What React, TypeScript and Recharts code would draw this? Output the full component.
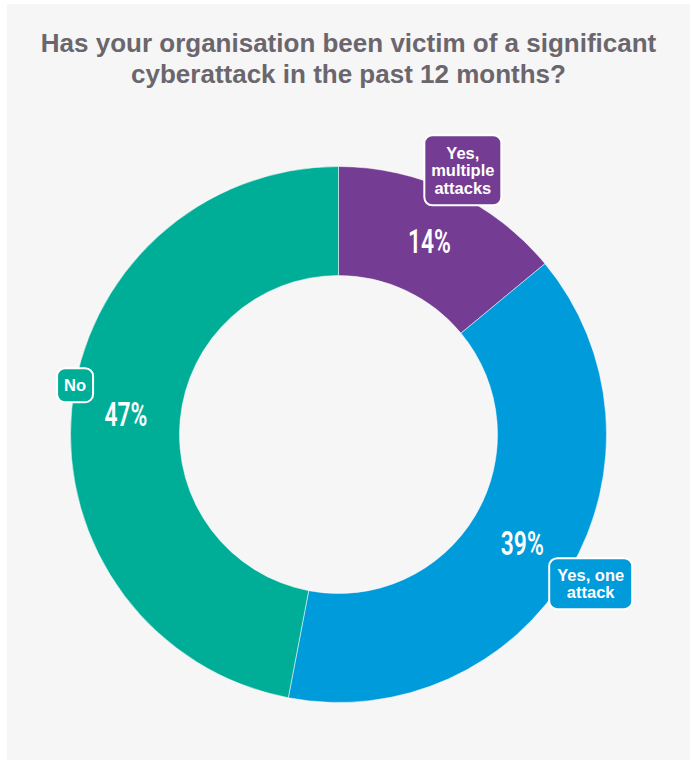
import { PieChart, Pie, Cell } from 'recharts'

const CATEGORIES = ['Yes, multiple attacks', 'Yes, one attack', 'No']
const VALUES = [14, 39, 47]
const LABEL_LINES = [['Yes,', 'multiple', 'attacks'], ['Yes, one', 'attack'], ['No']]
const COLORS = ['#743C92', '#009BDB', '#00AE98']

const TITLE = ['Has your organisation been victim of a significant', 'cyberattack in the past 12 months?']

// callout box geometry per slice (radial offset from outer edge, angle shift, box size)
const CALLOUTS = [
  { dr: 24, da: 0, w: 77, h: 70 },
  { dr: 25, da: 0, w: 83, h: 51 },
  { dr: 0, da: -5.2, w: 36, h: 34 },
]

const RADIAN = Math.PI / 180

function renderLabel(props: any) {
  const { cx, cy, midAngle, innerRadius, outerRadius, index, value } = props
  const mr = (innerRadius + outerRadius) / 2
  const px = cx + mr * Math.cos(-midAngle * RADIAN)
  const py = cy + mr * Math.sin(-midAngle * RADIAN)

  const c = CALLOUTS[index]
  const a = midAngle + c.da
  const br = outerRadius + c.dr
  const bx = cx + br * Math.cos(-a * RADIAN)
  const by = cy + br * Math.sin(-a * RADIAN)
  const lines = LABEL_LINES[index]
  const lh = 17.5

  return (
    <g key={`lbl-${index}`}>
      <text
        x={px}
        y={py + 12}
        textAnchor="middle"
        fill="#fff"
        fontFamily="Roboto, sans-serif"
        fontWeight={600}
        fontSize={33}
        textLength={43}
        lengthAdjust="spacingAndGlyphs"
      >
        {`${value}%`}
      </text>
      <rect
        x={bx - c.w / 2}
        y={by - c.h / 2}
        width={c.w}
        height={c.h}
        rx={8}
        ry={8}
        fill={COLORS[index]}
        stroke="#fff"
        strokeWidth={2}
      />
      {lines.map((ln, i) => (
        <text
          key={i}
          x={bx}
          y={by + (i - (lines.length - 1) / 2) * lh + 6}
          textAnchor="middle"
          fill="#fff"
          fontFamily="'Liberation Sans', Arial, sans-serif"
          fontWeight={700}
          fontSize={16.5}
        >
          {ln}
        </text>
      ))}
    </g>
  )
}

export default function App() {
  const data = CATEGORIES.map((name, i) => ({ name, value: VALUES[i] }))

  return (
    <div style={{ position: 'absolute', left: 0, top: 0, width: 691, height: 762, background: '#fff' }}>
      <div style={{ position: 'absolute', left: 7, top: 4, width: 683, height: 756, background: '#f6f6f6' }} />
      <div
        style={{
          position: 'absolute',
          left: 7,
          top: 28,
          width: 683,
          textAlign: 'center',
          fontFamily: "'Liberation Sans', Arial, sans-serif",
          fontWeight: 700,
          fontSize: 26,
          lineHeight: '31px',
          color: '#6b666d',
        }}
      >
        {TITLE.map((t) => (
          <div key={t}>{t}</div>
        ))}
      </div>
      <div style={{ position: 'absolute', left: 0, top: 0 }}>
        <PieChart width={691} height={762} margin={{ top: 0, right: 0, bottom: 0, left: 0 }}>
          <Pie
            data={data}
            dataKey="value"
            nameKey="name"
            cx={338.5}
            cy={434.5}
            innerRadius={159}
            outerRadius={268}
            startAngle={90}
            endAngle={-270}
            stroke="#fff"
            strokeWidth={0.5}
            label={renderLabel}
            labelLine={false}
            isAnimationActive={false}
          >
            {data.map((d, i) => (
              <Cell key={d.name} fill={COLORS[i]} />
            ))}
          </Pie>
        </PieChart>
      </div>
    </div>
  )
}
